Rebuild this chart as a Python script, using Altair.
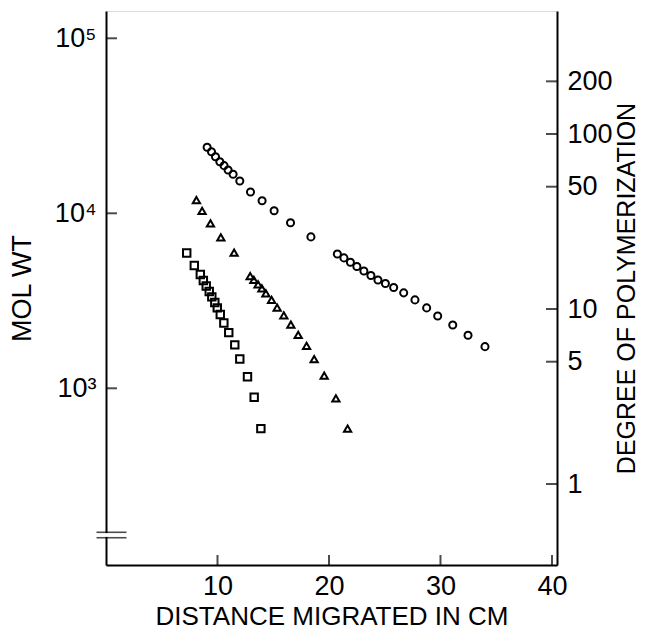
import altair as alt
import pandas as pd

# ---- data ----
circle_x = [9.07, 9.46, 9.82, 10.21, 10.59, 10.95, 11.40, 12.00, 12.96, 14.00, 15.08, 16.55, 18.38,
            20.75, 21.34, 21.92, 22.50, 23.13, 23.76, 24.39, 25.06, 25.80, 26.70, 27.71, 28.76,
            29.75, 31.10, 32.47, 33.99]
circle_mw = [23830, 22490, 21040, 19720, 18720, 17670, 16710, 15310, 13240, 11800, 10350, 8830, 7330,
             5850, 5560, 5250, 4970, 4680, 4410, 4160, 3970, 3770, 3510, 3200, 2880,
             2590, 2300, 2010, 1730]

triangle_x = [8.11, 8.62, 9.37, 10.30, 11.49, 12.93, 13.26, 13.64, 13.98, 14.34, 14.85, 15.35,
              15.95, 16.58, 17.24, 17.99, 18.67, 19.57, 20.62, 21.67]
triangle_mw = [11910, 10310, 8770, 7290, 5960, 4380, 4160, 3930, 3720, 3490, 3200, 2890,
               2610, 2310, 2020, 1750, 1470, 1180, 877, 588]

square_x = [7.24, 7.92, 8.46, 8.73, 8.99, 9.26, 9.49, 9.76, 9.98, 10.25, 10.57, 11.01, 11.55,
            12.00, 12.69, 13.29, 13.89]
square_mw = [5930, 5030, 4470, 4130, 3840, 3570, 3330, 3090, 2880, 2640, 2360, 2080, 1770,
             1470, 1165, 889, 588]

x_ticks = [10, 20, 30, 40]
mw_ticks = [1000, 10000, 100000]
dp_ticks = [1, 5, 10, 50, 100, 200]
break_mw = [140, 150.4]

X_DOMAIN = [0, 40.45]
MW_DOMAIN = [97.8, 143200]
DP_FACTOR = 283.8  # mol wt per degree of polymerization (axis alignment)
DP_DOMAIN = [MW_DOMAIN[0] / DP_FACTOR, MW_DOMAIN[1] / DP_FACTOR]

FONT = "Liberation Sans"
FS = 27

rows = []
for s, xs, ys in [("circle", circle_x, circle_mw), ("triangle-up", triangle_x, triangle_mw),
                  ("square", square_x, square_mw)]:
    for a, b in zip(xs, ys):
        rows.append({"series": s, "dist": a, "mw": b})
pts = pd.DataFrame(rows)

xscale = alt.Scale(domain=X_DOMAIN, nice=False, zero=False)
yscale = alt.Scale(type="log", domain=MW_DOMAIN, nice=False)
dscale = alt.Scale(type="log", domain=DP_DOMAIN, nice=False)

xaxis = alt.Axis(values=x_ticks, title="DISTANCE MIGRATED IN CM", ticks=False,
                 labelPadding=8, grid=False, domainColor="black", domainWidth=2,
                 labelFont=FONT, labelFontSize=FS, labelColor="black",
                 titleFont=FONT, titleFontSize=26, titleFontWeight="normal",
                 titleColor="black", titlePadding=4)
yaxis = alt.Axis(values=mw_ticks, title="MOL WT", ticks=False, labelPadding=10,
                 grid=False, domainColor="black", domainWidth=2,
                 labelExpr="'10' + (datum.value == 1000 ? '³' : datum.value == 10000 ? '⁴' : '⁵')",
                 labelFont=FONT, labelFontSize=FS, labelColor="black",
                 titleFont=FONT, titleFontSize=FS, titleFontWeight="normal",
                 titleColor="black", titlePadding=18)
daxis = alt.Axis(orient="right", values=dp_ticks, format="d", title="DEGREE OF POLYMERIZATION",
                 ticks=False, labelPadding=10, grid=False, domainColor="black", domainWidth=2,
                 labelFont=FONT, labelFontSize=FS, labelColor="black",
                 titleFont=FONT, titleFontSize=25, titleFontWeight="normal",
                 titleColor="black", titleAngle=270, titleBaseline="top", titlePadding=2)

points = alt.Chart(pts).mark_point(filled=False, color="black", strokeWidth=2, opacity=1).encode(
    x=alt.X("dist:Q", scale=xscale, axis=xaxis),
    y=alt.Y("mw:Q", scale=yscale, axis=yaxis),
    shape=alt.Shape("series:N", scale=alt.Scale(domain=["circle", "triangle-up", "square"],
                                                range=["circle", "triangle-up", "square"]),
                    legend=None),
    size=alt.Size("series:N", scale=alt.Scale(domain=["circle", "triangle-up", "square"],
                                              range=[50, 55, 42]), legend=None),
)

left_ticks = alt.Chart(pd.DataFrame({"dist": [X_DOMAIN[0]] * len(mw_ticks), "mw": mw_ticks})).mark_tick(
    orient="horizontal", color="black", thickness=2, size=11, xOffset=5.5).encode(
    x=alt.X("dist:Q", scale=xscale, axis=xaxis), y=alt.Y("mw:Q", scale=yscale, axis=yaxis))

bottom_ticks = alt.Chart(pd.DataFrame({"dist": x_ticks, "mw": [MW_DOMAIN[0]] * len(x_ticks)})).mark_tick(
    orient="vertical", color="black", thickness=2, size=10, yOffset=-5).encode(
    x=alt.X("dist:Q", scale=xscale, axis=xaxis), y=alt.Y("mw:Q", scale=yscale, axis=yaxis))

gap = alt.Chart(pd.DataFrame({"dist": [X_DOMAIN[0]], "mw": [break_mw[0] + 1.5], "hi": [break_mw[1] - 1.5]})).mark_rule(
    color="white", strokeWidth=4).encode(
    x=alt.X("dist:Q", scale=xscale, axis=xaxis), y=alt.Y("mw:Q", scale=yscale, axis=yaxis), y2="hi:Q")

breaks = alt.Chart(pd.DataFrame({"dist": [X_DOMAIN[0]] * 2, "mw": break_mw})).mark_tick(
    orient="horizontal", color="black", thickness=1.6, size=30, xOffset=5.5).encode(
    x=alt.X("dist:Q", scale=xscale, axis=xaxis), y=alt.Y("mw:Q", scale=yscale, axis=yaxis))

left = alt.layer(points, left_ticks, bottom_ticks, gap, breaks)

right = alt.Chart(pd.DataFrame({"dist": [X_DOMAIN[1]] * len(dp_ticks), "dp": dp_ticks})).mark_tick(
    orient="horizontal", color="black", thickness=2, size=11, xOffset=-5.5).encode(
    x=alt.X("dist:Q", scale=xscale, axis=xaxis),
    y=alt.Y("dp:Q", scale=dscale, axis=daxis))

chart = alt.layer(left, right).resolve_scale(y="independent").properties(
    width=451, height=554,
    padding={"left": 98, "top": 3, "right": 83, "bottom": 75},
    autosize=alt.AutoSizeParams(type="none"),
).configure_view(strokeWidth=0).configure(background="white")

chart.save("out.html", embed_options={"renderer": "svg", "actions": False})
